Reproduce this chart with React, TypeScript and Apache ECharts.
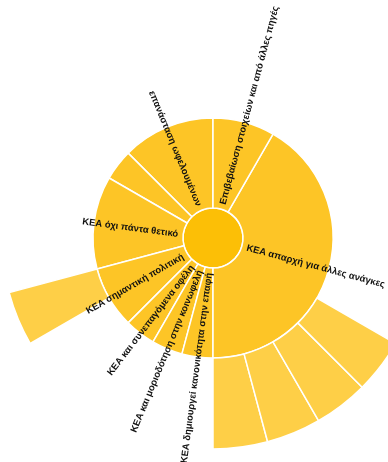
import React, { useEffect, useRef } from "react";
import * as echarts from "echarts";

// Ring 1 categories (counter-clockwise from top) and their values
const ringNames = [
  "επανάσταση ωφελουμένων",
  "",
  "ΚΕΑ όχι πάντα θετικό",
  "ΚΕΑ σημαντική πολιτική",
  "ΚΕΑ και συνεπαγόμενα οφέλη",
  "ΚΕΑ και μοριοδότηση στην κοινωφελή",
  "ΚΕΑ δημιουργεί κανονικότητα στην επαφή",
  "ΚΕΑ απαρχή για άλλες ανάγκες",
  "Επιβεβαίωση στοιχείων και από άλλες πηγές",
];
const ringValues = [3, 1, 3, 2, 1, 1, 1, 10, 2];
// Outer ring children per ring-1 index
const childValues: Record<number, number[]> = {
  3: [1],
  7: [1, 1, 1, 1],
};

export default function App() {
  const ref = useRef<HTMLDivElement>(null);
  useEffect(() => {
    if (!ref.current) return;
    const chart = echarts.init(ref.current, undefined, { renderer: "svg" });
    const children = ringNames.map((name, i) => {
      const node: any = { name, value: ringValues[i] };
      if (childValues[i]) {
        node.children = childValues[i].map((v) => ({ name: "", value: v }));
      }
      return node;
    });
    chart.setOption({
      animation: false,
      series: [
        {
          type: "sunburst",
          center: [213, 238],
          clockwise: false,
          startAngle: 90,
          sort: null,
          nodeClick: false,
          data: [{ name: "", children }],
          itemStyle: { borderColor: "#ffffff", borderWidth: 1.5 },
          label: {
            rotate: "radial",
            align: "left",
            color: "#111",
            fontSize: 9.5,
            fontWeight: "bold",
            fontFamily: "Arial, Liberation Sans, sans-serif",
            distance: 5,
          },
          emphasis: { disabled: true },
          levels: [
            {},
            { r0: 0, r: 30, itemStyle: { color: "#FCBF06" }, label: { show: false } },
            { r0: 30, r: 120, itemStyle: { color: "#FDC526" } },
            { r0: 120, r: 211, itemStyle: { color: "#FECF47" }, label: { show: false } },
          ],
        },
      ],
    });
    return () => chart.dispose();
  }, []);
  return (
    <div
      ref={ref}
      style={{ position: "fixed", left: 0, top: 0, width: 388, height: 462 }}
    />
  );
}
